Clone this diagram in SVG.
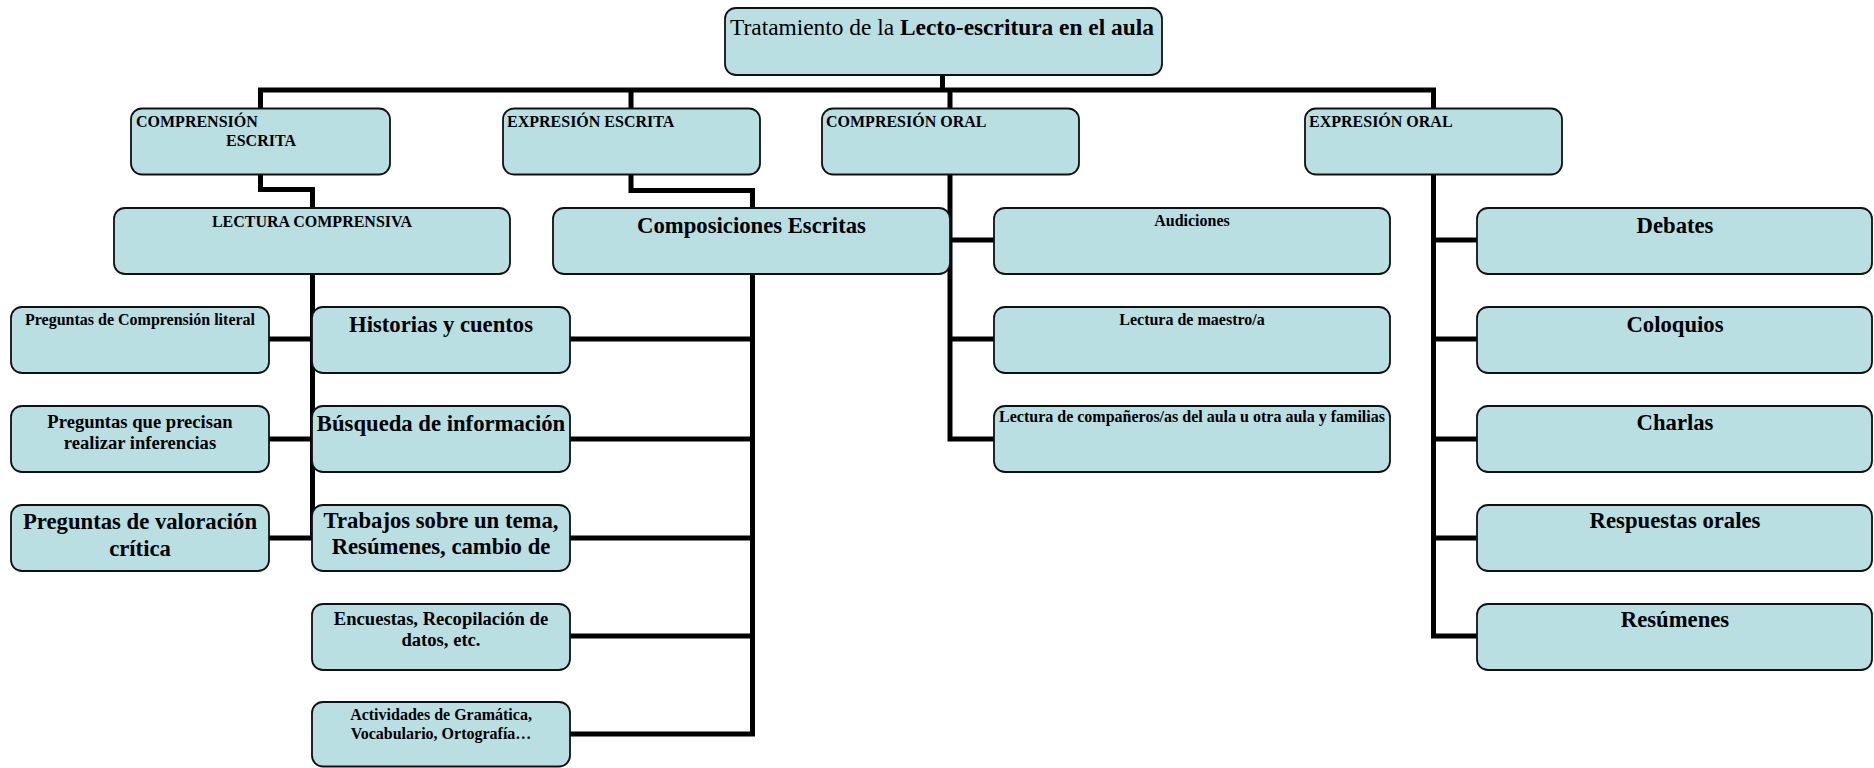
<svg xmlns="http://www.w3.org/2000/svg" width="1874" height="768" viewBox="0 0 1874 768">
<style>
.box{fill:#B9DFE3;stroke:#111;stroke-width:1.8}
.con{fill:none;stroke:#000;stroke-width:5;stroke-linejoin:miter;stroke-linecap:butt}
text{font-family:"Liberation Serif","Times New Roman",serif;font-weight:bold;fill:#000}
.s16{font-size:16px}
.s18{font-size:18.6px}
.s22{font-size:22.7px}
.c{text-anchor:middle}
</style>
<rect width="1874" height="768" fill="#fff"/>
<g id="connectors">
<path class="con" d="M942.5 75 V90"/>
<path class="con" d="M258 90 H1436"/>
<path class="con" d="M260.5 90 V189.5 H312.5 V208"/>
<path class="con" d="M631 90 V190.5 H752.5 V208"/>
<path class="con" d="M950 90 V439 H994 M950 240 H994 M950 339 H994"/>
<path class="con" d="M1433.5 90 V636 H1477 M1433.5 240 H1477 M1433.5 339 H1477 M1433.5 439 H1477 M1433.5 538 H1477"/>
<path class="con" d="M312.5 274 V538 M269 339 H312.5 M269 439 H312.5 M269 538 H312.5"/>
<path class="con" d="M570 734 H752.5 V274 M570 339 H752.5 M570 439 H752.5 M570 538 H752.5 M570 636 H752.5"/>
</g>
<g id="root"><rect class="box" x="725" y="8" width="437" height="67" rx="11"/>
<text x="942" y="35" class="c" style="font-size:23.4px"><tspan font-weight="normal">Tratamiento de la </tspan>Lecto-escritura en el aula</text></g>
<g id="comprension-escrita"><rect class="box" x="131" y="108.5" width="259" height="66" rx="11"/>
<text class="s16" x="136" y="127">COMPRENSIÓN</text><text class="s16" x="226" y="146">ESCRITA</text></g>
<g id="expresion-escrita"><rect class="box" x="503" y="108.5" width="257" height="66" rx="11"/>
<text class="s16" x="507" y="127">EXPRESIÓN ESCRITA</text></g>
<g id="compresion-oral"><rect class="box" x="822" y="108.5" width="257" height="66" rx="11"/>
<text class="s16" x="826" y="127">COMPRESIÓN ORAL</text></g>
<g id="expresion-oral"><rect class="box" x="1305" y="108.5" width="257" height="66" rx="11"/>
<text class="s16" x="1309" y="127">EXPRESIÓN ORAL</text></g>
<g id="lectura-comprensiva"><rect class="box" x="114" y="208" width="396" height="66" rx="11"/>
<text class="s16 c" x="312" y="227">LECTURA COMPRENSIVA</text></g>
<g id="composiciones"><rect class="box" x="553" y="208" width="397" height="66" rx="11"/>
<text class="s22 c" x="751.5" y="233">Composiciones Escritas</text></g>
<g id="audiciones"><rect class="box" x="994" y="208" width="396" height="66" rx="11"/>
<text class="s16 c" x="1192" y="226">Audiciones</text></g>
<g id="debates"><rect class="box" x="1477" y="208" width="395" height="66" rx="11"/>
<text class="s22 c" x="1675" y="233">Debates</text></g>
<g id="preg-literal"><rect class="box" x="11" y="307" width="258" height="66" rx="11"/>
<text class="s16 c" x="140" y="325">Preguntas de Comprensión literal</text></g>
<g id="historias"><rect class="box" x="312" y="307" width="258" height="66" rx="11"/>
<text class="s22 c" x="441" y="332">Historias y cuentos</text></g>
<g id="lectura-maestro"><rect class="box" x="994" y="307" width="396" height="66" rx="11"/>
<text class="s16 c" x="1192" y="325">Lectura de maestro/a</text></g>
<g id="coloquios"><rect class="box" x="1477" y="307" width="395" height="66" rx="11"/>
<text class="s22 c" x="1675" y="332">Coloquios</text></g>
<g id="preg-inferencias"><rect class="box" x="11" y="406" width="258" height="66" rx="11"/>
<text class="s18 c" x="140" y="428">Preguntas que precisan</text><text class="s18 c" x="140" y="449">realizar inferencias</text></g>
<g id="busqueda"><rect class="box" x="312" y="406" width="258" height="66" rx="11"/>
<text class="s22 c" x="441" y="431">Búsqueda de información</text></g>
<g id="lectura-companeros"><rect class="box" x="994" y="406" width="396" height="66" rx="11"/>
<text class="s16 c" x="1192" y="422">Lectura de compañeros/as del aula u otra aula y familias</text></g>
<g id="charlas"><rect class="box" x="1477" y="406" width="395" height="66" rx="11"/>
<text class="s22 c" x="1675" y="430">Charlas</text></g>
<g id="preg-valoracion"><rect class="box" x="11" y="505" width="258" height="66" rx="11"/>
<text class="s22 c" x="140" y="529">Preguntas de valoración</text><text class="s22 c" x="140" y="556">crítica</text></g>
<g id="trabajos"><rect class="box" x="312" y="505" width="258" height="66" rx="11"/>
<text class="s22 c" x="441" y="528">Trabajos sobre un tema,</text><text class="s22 c" x="441" y="554">Resúmenes, cambio de</text></g>
<g id="respuestas"><rect class="box" x="1477" y="505" width="395" height="66" rx="11"/>
<text class="s22 c" x="1675" y="528">Respuestas orales</text></g>
<g id="encuestas"><rect class="box" x="312" y="604" width="258" height="66" rx="11"/>
<text class="s18 c" x="441" y="625">Encuestas, Recopilación de</text><text class="s18 c" x="441" y="646">datos, etc.</text></g>
<g id="resumenes"><rect class="box" x="1477" y="604" width="395" height="66" rx="11"/>
<text class="s22 c" x="1675" y="627">Resúmenes</text></g>
<g id="actividades"><rect class="box" x="312" y="702" width="258" height="64.5" rx="11"/>
<text class="s16 c" x="441" y="720">Actividades de Gramática,</text><text class="s16 c" x="441" y="739">Vocabulario, Ortografía…</text></g>
</svg>
